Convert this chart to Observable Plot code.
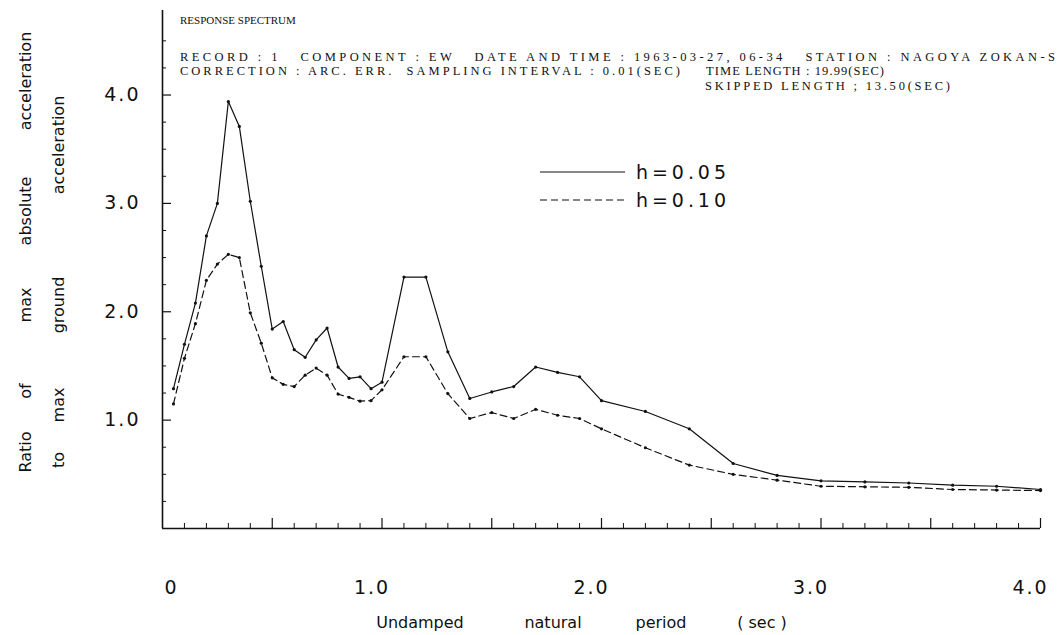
<!DOCTYPE html>
<html><head><meta charset="utf-8">
<script src="https://cdn.jsdelivr.net/npm/d3@7"></script>
<script src="https://cdn.jsdelivr.net/npm/@observablehq/plot@0.6"></script>
<style>
body{margin:0;background:#fff;}
#wrap{position:relative;width:1060px;height:635px;overflow:hidden;background:#fff;}
#wrap > svg{position:absolute;left:0;top:0;}
.tl text{letter-spacing:2px;}
text.h{white-space:pre;}
</style></head><body><div id="wrap"></div>
<script>
// ---- data ----
const periods = [0.05,0.1,0.15,0.2,0.25,0.3,0.35,0.4,0.45,0.5,0.55,0.6,0.65,0.7,0.75,0.8,0.85,0.9,0.95,1.0,
                 1.1,1.2,1.3,1.4,1.5,1.6,1.7,1.8,1.9,2.0,2.2,2.4,2.6,2.8,3.0,3.2,3.4,3.6,3.8,4.0];
const h005 = [1.29,1.70,2.08,2.70,3.00,3.94,3.71,3.02,2.42,1.84,1.91,1.65,1.58,1.74,1.85,1.49,1.385,1.40,1.29,1.35,
              2.32,2.32,1.63,1.20,1.26,1.31,1.49,1.44,1.40,1.18,1.08,0.92,0.60,0.49,0.44,0.43,0.42,0.40,0.39,0.36];
const h010 = [1.15,1.57,1.89,2.29,2.44,2.53,2.50,1.99,1.71,1.39,1.33,1.31,1.415,1.48,1.415,1.24,1.21,1.175,1.18,1.28,
              1.585,1.585,1.245,1.015,1.07,1.015,1.10,1.045,1.015,0.92,0.745,0.585,0.50,0.446,0.39,0.385,0.38,0.36,0.355,0.35];
const seriesNames = ["h=0.05","h=0.10"];
const xLabelTicks = [1,2,3,4];
const xZeroTick = [0];
const xHalfTicks = [0.5,1,1.5,2,2.5,3,3.5,4];
const xMinorTicks = [0.1,0.2,0.3,0.4,0.6,0.7,0.8,0.9,1.1,1.2,1.3,1.4,1.6,1.7,1.8,1.9,2.1,2.2,2.3,2.4,2.6,2.7,2.8,2.9,3.1,3.2,3.3,3.4,3.6,3.7,3.8,3.9];
const yMajorTicks = [1,2,3,4];
const yMinorTicks = [0.25,0.5,0.75,1.25,1.5,1.75,2.25,2.5,2.75,3.25,3.5,3.75,4.25,4.5];
const headerTexts = [
  "RESPONSE SPECTRUM",
  "RECORD : 1   COMPONENT : EW   DATE AND TIME : 1963-03-27, 06-34   STATION : NAGOYA ZOKAN-S",
  "CORRECTION : ARC. ERR.  SAMPLING INTERVAL : 0.01(SEC)",
  "TIME LENGTH : 19.99(SEC)",
  "SKIPPED LENGTH ; 13.50(SEC)"
];
const xTitleWords = ["Undamped","natural","period","( sec )"];
const yTitle1 = ["Ratio","of","max","absolute","acceleration"];
const yTitle2 = ["to","max","ground","acceleration"];

const rows = [];
periods.forEach((p,i)=>{ rows.push({period:p, ratio:h005[i], series:seriesNames[0]}); rows.push({period:p, ratio:h010[i], series:seriesNames[1]}); });
const s1 = rows.filter(d=>d.series===seriesNames[0]);
const s2 = rows.filter(d=>d.series===seriesNames[1]);

const W=1060,H=635,mL=162,mR=20,mT=10,mB=107;
const fw=W-mL-mR, fh=H-mT-mB;
const ink="#111";
const fmt=d=>d===0?"0":d.toFixed(1);

const plot = Plot.plot({
  width:W, height:H, marginLeft:mL, marginRight:mR, marginTop:mT, marginBottom:mB,
  x:{domain:[0,4], axis:null},
  y:{domain:[0,4.78], axis:null},
  style:{background:"#fff", color:ink, fontFamily:"DejaVu Sans", overflow:"visible"},
  marks:[
    Plot.tickX(xMinorTicks,{x:d=>d, insetTop:fh-5, stroke:ink, strokeWidth:1}),
    Plot.tickX(xHalfTicks,{x:d=>d, insetTop:fh-10, stroke:ink, strokeWidth:1.2}),
    Plot.tickY(yMinorTicks,{y:d=>d, insetRight:fw-4, stroke:ink, strokeWidth:1}),
    Plot.tickY(yMajorTicks,{y:d=>d, insetRight:fw-9, stroke:ink, strokeWidth:1.2}),
    Plot.ruleY([0],{stroke:ink, strokeWidth:1.6}),
    Plot.ruleX([0],{stroke:ink, strokeWidth:1.6}),
    Plot.line(s1,{x:"period", y:"ratio", stroke:ink, strokeWidth:1.2}),
    Plot.line(s2,{x:"period", y:"ratio", stroke:ink, strokeWidth:1.2, strokeDasharray:"7,4"}),
    Plot.dot(rows,{x:"period", y:"ratio", r:1.6, fill:ink, stroke:null}),
    Plot.axisX(xLabelTicks,{tickSize:0, tickPadding:52, fontSize:19, dx:-10, tickFormat:fmt, label:null, className:"tl"}),
    Plot.axisX(xZeroTick,{tickSize:0, tickPadding:52, fontSize:19, dx:8, tickFormat:fmt, label:null}),
    Plot.axisY(yMajorTicks,{tickSize:0, tickPadding:22, fontSize:19, tickFormat:fmt, label:null, className:"tl"})
  ]
});
document.getElementById("wrap").appendChild(plot);

// ---- annotations overlay ----
const svg = d3.select("#wrap").append("svg").attr("width",W).attr("height",H);
const serif = "Liberation Serif";
const hdrPos = [
  {x:180, y:24, w:null, fs:11},
  {x:180, y:61, w:875, fs:12.5},
  {x:180, y:75, w:500, fs:12.5},
  {x:706, y:75, w:178, fs:12.5},
  {x:705, y:90, w:245, fs:12.5}
];
hdrPos.forEach((p,i)=>{
  const t = svg.append("text").attr("class","h")
    .attr("x",p.x).attr("y",p.y).attr("xml:space","preserve")
    .style("font-family",serif).style("font-size",p.fs+"px").style("fill",ink).text(headerTexts[i]);
  if (p.w) t.attr("textLength",p.w).attr("lengthAdjust","spacing");
});

// legend
const leg = [{name:seriesNames[0], y:172, dash:null},{name:seriesNames[1], y:200, dash:"7,4"}];
leg.forEach(l=>{
  svg.append("line").attr("x1",540).attr("x2",625).attr("y1",l.y).attr("y2",l.y)
    .attr("stroke",ink).attr("stroke-width",1.2).attr("stroke-dasharray",l.dash);
  svg.append("text").attr("x",636).attr("y",l.y).attr("dy","0.35em")
    .attr("textLength",90).attr("lengthAdjust","spacing")
    .style("font-family","DejaVu Sans").style("font-size","19px").style("fill",ink).text(l.name);
});

// x title
const xPos=[420,553,661,762];
xTitleWords.forEach((w,i)=>svg.append("text").attr("x",xPos[i]).attr("y",622).attr("dy","0.35em")
  .attr("text-anchor","middle").style("font-family","DejaVu Sans").style("font-size","16px").style("fill",ink).text(w));

// y title (rotated)
const y1Pos=[452,391,305,211,81], y2Pos=[460,405,305,145];
yTitle1.forEach((w,i)=>svg.append("text").attr("transform",`translate(25,${y1Pos[i]}) rotate(-90)`).attr("dy","0.35em")
  .attr("text-anchor","middle").style("font-family","DejaVu Sans").style("font-size","16px").style("fill",ink).text(w));
yTitle2.forEach((w,i)=>svg.append("text").attr("transform",`translate(58,${y2Pos[i]}) rotate(-90)`).attr("dy","0.35em")
  .attr("text-anchor","middle").style("font-family","DejaVu Sans").style("font-size","16px").style("fill",ink).text(w));
</script></body></html>
